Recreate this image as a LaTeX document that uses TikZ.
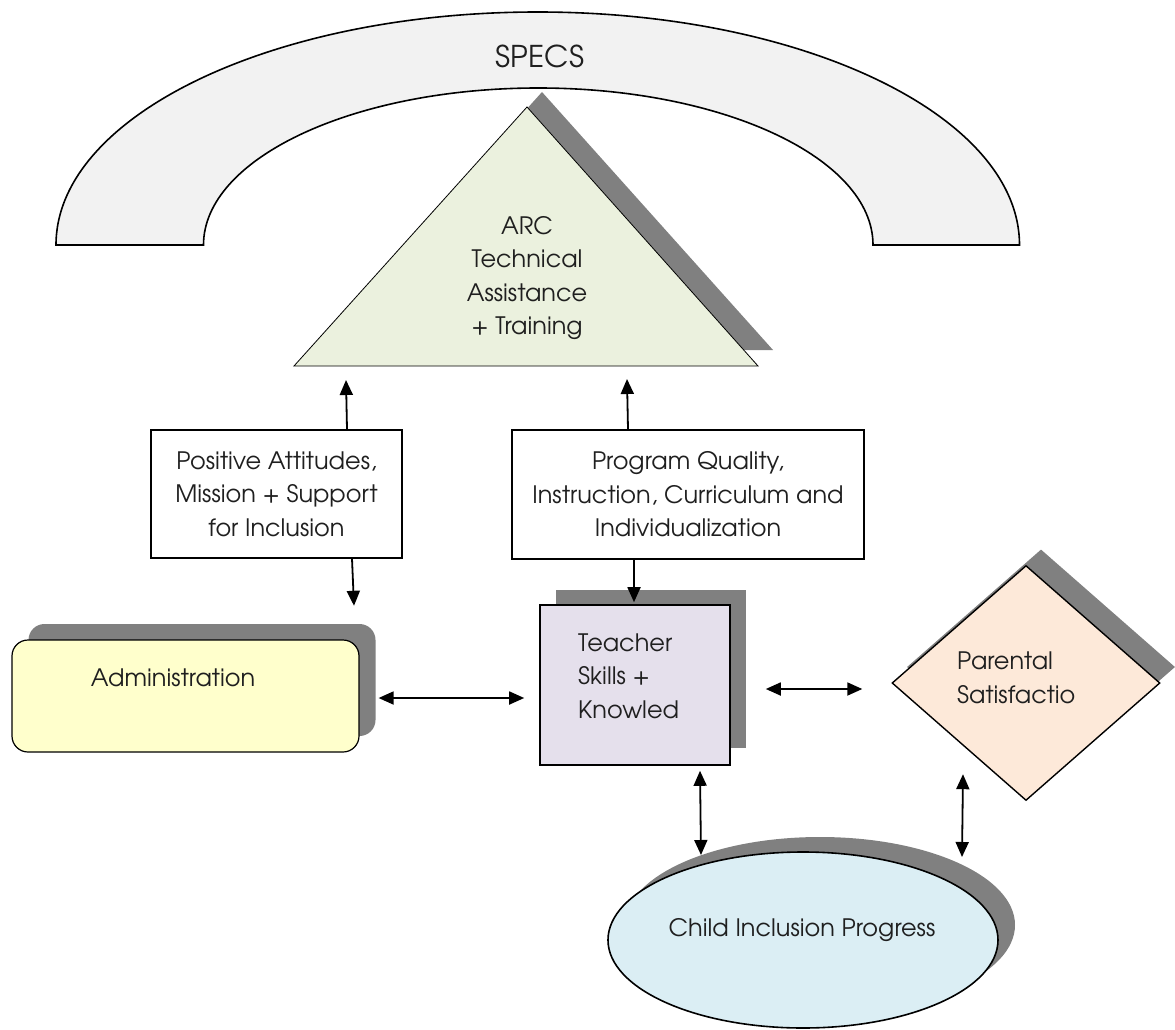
\documentclass[tikz,border=0pt]{standalone}
\usepackage{fontspec}
\setmainfont{TeX Gyre Adventor}
\usetikzlibrary{arrows.meta,shapes.geometric,calc}
\definecolor{arcfill}{HTML}{F2F2F2}
\definecolor{trifill}{HTML}{EBF1DE}
\definecolor{shadowgray}{HTML}{808080}
\definecolor{admfill}{HTML}{FFFFCC}
\definecolor{teafill}{HTML}{E5E0EC}
\definecolor{diafill}{HTML}{FDE9D9}
\definecolor{ellfill}{HTML}{DBEEF4}
\tikzset{
  txt/.style={font=\fontsize{24}{33.5}\selectfont, text=black!88, align=center, inner sep=0pt},
  boxstyle/.style={draw, line width=1.6pt, fill=white, inner sep=0pt, align=center, text=black!88, font=\fontsize{24}{33.5}\selectfont},
  arr/.style={line width=1.8pt, -{Triangle[length=15pt,width=13pt]}},
  dbl/.style={line width=1.8pt, {Triangle[length=15pt,width=13pt]}-{Triangle[length=15pt,width=13pt]}},
}
\begin{document}
\begin{tikzpicture}[x=1pt,y=-1pt]
\useasboundingbox (0,0) rectangle (1175,1030);
% SPECS arc
\draw[line width=1.6pt, fill=arcfill] (56,245) arc[start angle=180, end angle=360, x radius=481.75, y radius=233]
  -- (873,245) arc[start angle=0, end angle=-180, x radius=334.75, y radius=157] -- cycle;
\node[txt, font=\fontsize{30}{34}\selectfont] (specs) at (540,56) {SPECS};
% triangle
\fill[shadowgray] (542,92) -- (773,350) -- (310,350) -- cycle;
\draw[line width=0.8pt, fill=trifill] (527,107) -- (758,366) -- (294,366) -- cycle;
\node[txt] (tri) at (527,278) {ARC\\Technical\\Assistance\\+ Training};
% boxes
\node[boxstyle, minimum width=251, minimum height=128] (b1) at (276.5,494) {Positive Attitudes,\\Mission + Support\\for Inclusion};
\node[boxstyle, minimum width=352, minimum height=129] (b2) at (688,494.5) {Program Quality,\\Instruction, Curriculum and\\Individualization};
% administration
\node[rounded corners=16pt, fill=shadowgray, minimum width=347, minimum height=112, inner sep=0pt] (admsh) at (202,680) {};
\node[draw, line width=1.2pt, rounded corners=16pt, fill=admfill, minimum width=347, minimum height=112, inner sep=0pt] (admin) at (185.5,696) {};
\node[txt] (admtxt) at (173,678) {Administration};
% teacher
\node[fill=shadowgray, minimum width=190, minimum height=158, inner sep=0pt] (teash) at (651,669) {};
\node[draw, line width=1.6pt, fill=teafill, minimum width=190, minimum height=160, inner sep=0pt] (teach) at (635,685) {};
\node[txt, anchor=west, align=left] (teatxt) at (578,676) {Teacher\\Skills +\\Knowled};
% parental diamond
\node[diamond, fill=shadowgray, minimum width=268, minimum height=235, inner sep=0pt] (diash) at (1041,667) {};
\node[diamond, draw, line width=1.4pt, fill=diafill, minimum width=268, minimum height=235, inner sep=0pt] (dia) at (1026,683) {};
\node[txt, anchor=west, align=left] (diatxt) at (957,678) {Parental\\Satisfactio};
% ellipse
\node[ellipse, fill=shadowgray, minimum width=390, minimum height=176, inner sep=0pt] (ellsh) at (820,925) {};
\node[ellipse, draw, line width=1.6pt, fill=ellfill, minimum width=390, minimum height=176, inner sep=0pt] (ell) at (803,940) {};
\node[txt] (elltxt) at (802,930) {Child Inclusion Progress};
% connectors
\coordinate (c1) at (346,380);
\coordinate (c3) at (627,379);
\draw[arr] ([xshift=70.5pt]b1.north) -- (c1);
\draw[arr] ([xshift=75.5pt]b1.south) -- ($(b1.south)+(77.5,47)$);
\draw[arr] ([xshift=-60pt]b2.north) -- (c3);
\draw[arr] ([xshift=-54pt]b2.south) -- ($(teach.north)+(-1,-2)$);
\draw[dbl] ($(admin.east)+(19,2)$) -- ($(teach.west)+(-15,13)$);
\draw[dbl] ($(teach.east)+(35,4)$) -- ($(dia.west)+(-29,6)$);
\draw[dbl] ($(teach.south)+(65,5)$) -- ($(ell.center)+(-102,-85)$);
\draw[dbl] ($(dia.south)+(-63,-27)$) -- ($(ell.center)+(159,-83)$);
\end{tikzpicture}
\end{document}
